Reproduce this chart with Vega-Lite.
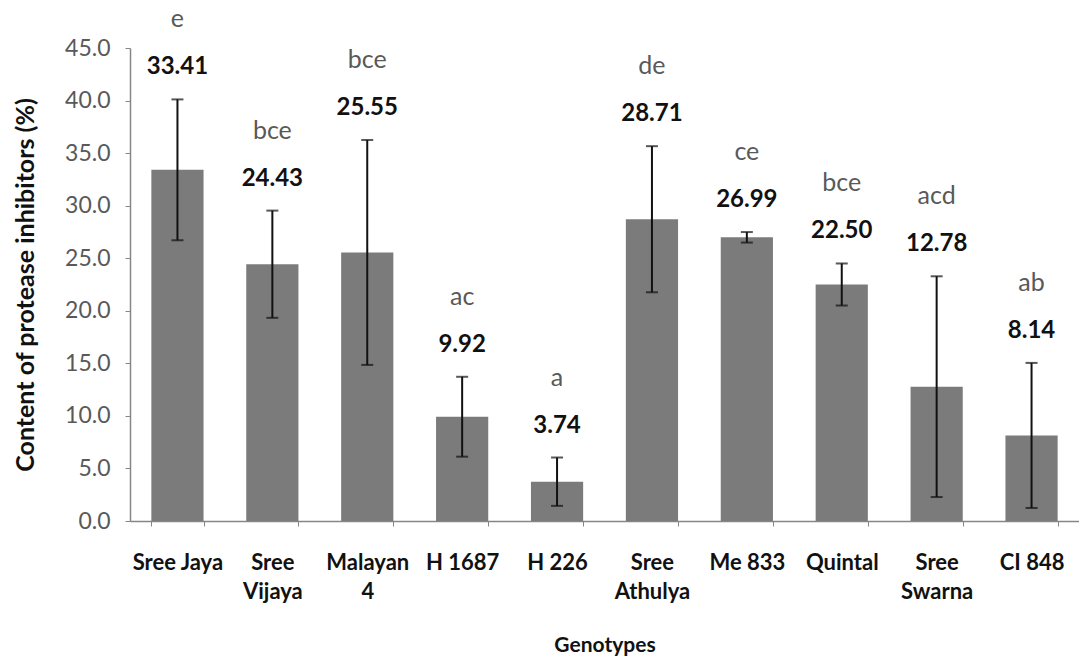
{
  "$schema": "https://vega.github.io/schema/vega-lite/v6.json",
  "autosize": {"type": "none"},
  "padding": {"left": 130, "top": 48, "right": 0, "bottom": 138},
  "width": 949,
  "height": 473,
  "background": "white",
  "config": {
    "view": {"stroke": null},
    "font": "Lato"
  },
  "data": {
    "values": [
      {"genotype": "Sree Jaya", "mean": 33.41, "sd": 6.7, "group": "e"},
      {"genotype": "Sree Vijaya", "mean": 24.43, "sd": 5.1, "group": "bce"},
      {"genotype": "Malayan 4", "mean": 25.55, "sd": 10.7, "group": "bce"},
      {"genotype": "H 1687", "mean": 9.92, "sd": 3.8, "group": "ac"},
      {"genotype": "H 226", "mean": 3.74, "sd": 2.3, "group": "a"},
      {"genotype": "Sree Athulya", "mean": 28.71, "sd": 6.95, "group": "de"},
      {"genotype": "Me 833", "mean": 26.99, "sd": 0.5, "group": "ce"},
      {"genotype": "Quintal", "mean": 22.5, "sd": 2.0, "group": "bce"},
      {"genotype": "Sree Swarna", "mean": 12.78, "sd": 10.5, "group": "acd"},
      {"genotype": "CI 848", "mean": 8.14, "sd": 6.9, "group": "ab"}
    ]
  },
  "transform": [
    {"calculate": "datum.mean + datum.sd", "as": "upper"},
    {"calculate": "format(datum.mean, '.2f')", "as": "meanLabel"}
  ],
  "encoding": {
    "x": {
      "field": "genotype",
      "type": "nominal",
      "sort": null,
      "scale": {"paddingInner": 0.45, "paddingOuter": 0.225},
      "axis": {
        "title": "Genotypes",
        "labelAngle": 0,
        "tickBand": "extent",
        "labelExpr": "indexof(['Sree Vijaya','Malayan 4','Sree Athulya','Sree Swarna'], datum.value) >= 0 ? split(datum.value, ' ') : datum.value",
        "labelFont": "Lato",
        "labelFontSize": 22,
        "labelFontWeight": "bold",
        "labelColor": "#111111",
        "labelLineHeight": 29,
        "labelPadding": 26,
        "labelLimit": 200,
        "domainColor": "#868686",
        "domainWidth": 1.5,
        "tickColor": "#868686",
        "tickSize": 5,
        "titleFont": "Lato",
        "titleFontSize": 21,
        "titleFontWeight": "bold",
        "titleColor": "#111111",
        "titlePadding": 32
      }
    }
  },
  "layer": [
    {
      "mark": {"type": "bar", "color": "#7b7b7b"},
      "encoding": {
        "y": {
          "field": "mean",
          "type": "quantitative",
          "scale": {"domain": [0, 45], "nice": false},
          "axis": {
            "title": "Content of protease inhibitors (%)",
            "values": [0, 5, 10, 15, 20, 25, 30, 35, 40, 45],
            "format": ".1f",
            "grid": false,
            "domainColor": "#868686",
            "domainWidth": 1.5,
            "tickColor": "#868686",
            "tickSize": 5,
            "labelFont": "Lato",
            "labelFontSize": 23,
            "labelColor": "#595959",
            "labelPadding": 15,
            "titleFont": "Lato",
            "titleFontSize": 25,
            "titleFontWeight": "bold",
            "titleColor": "#111111",
            "titlePadding": 26
          }
        }
      }
    },
    {
      "mark": {
        "type": "errorbar",
        "ticks": {"size": 12, "thickness": 2, "color": "#111111"},
        "rule": {"strokeWidth": 2, "color": "#111111"}
      },
      "encoding": {
        "y": {"field": "mean", "type": "quantitative", "title": "Content of protease inhibitors (%)"},
        "yError": {"field": "sd"}
      }
    },
    {
      "mark": {
        "type": "text",
        "font": "Lato",
        "fontSize": 24,
        "fontWeight": "bold",
        "color": "#111111",
        "baseline": "middle",
        "dy": -32
      },
      "encoding": {
        "y": {"field": "upper", "type": "quantitative", "title": "Content of protease inhibitors (%)"},
        "text": {"field": "meanLabel"}
      }
    },
    {
      "mark": {
        "type": "text",
        "font": "Lato",
        "fontSize": 25,
        "color": "#595959",
        "baseline": "middle",
        "dy": -80
      },
      "encoding": {
        "y": {"field": "upper", "type": "quantitative", "title": "Content of protease inhibitors (%)"},
        "text": {"field": "group"}
      }
    }
  ]
}
